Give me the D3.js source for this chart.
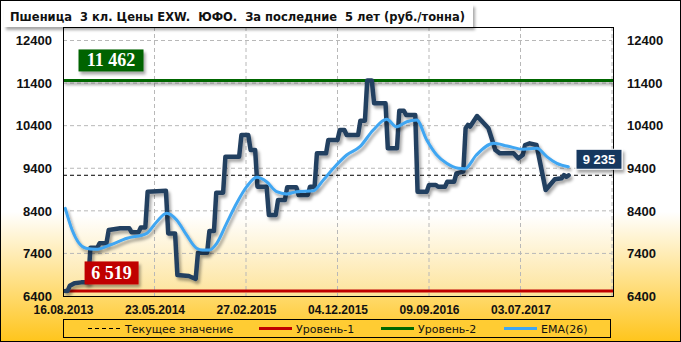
<!DOCTYPE html>
<html>
<head>
<meta charset="utf-8">
<script src="https://cdn.jsdelivr.net/npm/d3@7"></script>
<style>
  body { margin: 0; padding: 0; background: #fff; }
  svg { display: block; }
  .tick-label { font-family: "Liberation Sans", Arial, sans-serif; font-weight: bold; fill: #111; }
</style>
</head>
<body>
<div id="chart-container"></div>
<script>
// data (weeks since 16.08.2013)
const xLabels = ["16.08.2013", "23.05.2014", "27.02.2015", "04.12.2015", "09.09.2016", "03.07.2017"];
const xTicks = [0, 40, 80, 120, 160, 200];
const yTicks = [6400, 7400, 8400, 9400, 10400, 11400, 12400];

const priceWeek = [1, 2, 3, 5, 8, 11, 12, 15, 16, 19, 20, 25, 29, 30, 33, 34, 36, 37, 45, 46, 49, 50, 55, 58, 59, 63, 64, 66, 67, 70,
  71, 77, 78, 81, 82, 84, 85, 89, 90, 93, 94, 97, 98, 102, 103, 107, 108, 110, 111, 115, 116, 120, 121, 123, 124, 129, 130, 132, 133, 135,
  136, 141, 142, 146, 147, 149, 150, 154, 155, 159, 160, 163, 164, 167, 168, 171, 172, 175, 176, 177, 178, 181, 186, 189, 191, 197, 199, 201, 202, 204,
  207, 211, 215, 218, 219, 220, 221];
const priceValue = [6519, 6519, 6640, 6700, 6720, 6720, 7535, 7535, 7640, 7640, 7950, 7990, 7990, 7895, 7895, 8010, 8010, 8850, 8870, 7870, 7870, 6893, 6870, 6800, 7417, 7417, 7926, 7926, 8826, 8826,
  9671, 9671, 10181, 10181, 9829, 9829, 8967, 8967, 8302, 8302, 8654, 8654, 8952, 8952, 8772, 8772, 8967, 8967, 9750, 9750, 10064, 10064, 10298, 10298, 10181, 10181, 10517, 10517, 11462, 11462,
  10924, 10924, 9869, 9869, 10750, 10750, 10650, 10650, 8850, 8850, 9007, 9007, 8967, 8967, 9084, 9084, 9281, 9320, 10338, 10416, 10380, 10627, 10338, 9829, 9750, 9750, 9633, 9711, 9946, 9985,
  9946, 8889, 9140, 9164, 9241, 9200, 9235];

const emaWeek = [1, 4, 10, 14.5, 20.5, 28, 36.6, 41, 45.3, 49.7, 54, 58.4, 61, 64, 67.2, 71.5, 75.9, 80.3, 84.7, 89, 93.4, 97.8, 102.1, 109.4, 113.8,
  118.2, 124, 129.8, 135.6, 141.5, 145.8, 150.3, 154.6, 159, 163.4, 167.7, 172.8, 175.7, 180.7, 188.3, 194.2, 201.2, 207.1, 211.5, 215.9, 220.9];
const emaValue = [8459, 7950, 7520, 7497, 7598, 7755, 7872, 8145, 8342, 8185, 7833, 7520, 7480, 7480, 7637, 8106, 8577, 8967, 9188, 9085, 8850, 8796, 8850, 8873, 9124,
  9399, 9711, 9907, 10298, 10549, 10376, 10493, 10533, 10064, 9711, 9515, 9400, 9390, 9711, 9985, 9923, 9845, 9868, 9672, 9515, 9436];

const level1 = 6519;
const level2 = 11462;
const currentValue = 9235;

const W = 681, H = 342;
const plot = { left: 63, right: 614, top: 27, bottom: 296 };

const svg = d3.select("#chart-container")
    .append("svg")
    .attr("width", W)
    .attr("height", H);

const defs = svg.append("defs");

// background gradients
const bgGrad = defs.append("linearGradient").attr("id", "bg").attr("x1", 0).attr("y1", 0).attr("x2", 0).attr("y2", 1);
bgGrad.append("stop").attr("offset", "0%").attr("stop-color", "#ffffff");
bgGrad.append("stop").attr("offset", "62%").attr("stop-color", "#ffffff");
bgGrad.append("stop").attr("offset", "100%").attr("stop-color", "#ffc51c");

const plotGrad = defs.append("linearGradient").attr("id", "plotbg").attr("x1", 0).attr("y1", 0).attr("x2", 0).attr("y2", 1);
plotGrad.append("stop").attr("offset", "0%").attr("stop-color", "#ffffff");
plotGrad.append("stop").attr("offset", "70%").attr("stop-color", "#ffffff");
plotGrad.append("stop").attr("offset", "100%").attr("stop-color", "#fde39a");

// drop shadow, in user space so flat lines keep it too
const shadow = defs.append("filter").attr("id", "shadow")
    .attr("filterUnits", "userSpaceOnUse")
    .attr("x", 0).attr("y", 0).attr("width", W).attr("height", H);
shadow.append("feDropShadow").attr("dx", 2).attr("dy", 3).attr("stdDeviation", 1.4)
    .attr("flood-color", "#000").attr("flood-opacity", 0.35);

defs.append("clipPath").attr("id", "clip")
    .append("rect")
    .attr("x", plot.left).attr("y", plot.top)
    .attr("width", plot.right - plot.left).attr("height", plot.bottom - plot.top);

// outer background + frame
svg.append("rect").attr("x", 0.5).attr("y", 0.5).attr("width", W - 1).attr("height", H - 1)
    .attr("fill", "url(#bg)").attr("stroke", "#000");

// scales
const x = d3.scaleLinear().domain([0, 240]).range([plot.left, 612]);
const y = d3.scaleLinear().domain([6400, 12400]).range([296, 40.5]);

// plot area
svg.append("rect")
    .attr("x", plot.left).attr("y", plot.top)
    .attr("width", plot.right - plot.left).attr("height", plot.bottom - plot.top)
    .attr("fill", "url(#plotbg)");

// grid
svg.append("g").selectAll("line")
    .data(yTicks.slice(1))
    .enter().append("line")
    .attr("x1", plot.left).attr("x2", 612)
    .attr("y1", d => y(d)).attr("y2", d => y(d))
    .attr("stroke", "#b8b8b8").attr("stroke-dasharray", "4,3");

svg.append("g").selectAll("line")
    .data(xTicks.slice(1).concat([240]))
    .enter().append("line")
    .attr("x1", d => x(d)).attr("x2", d => x(d))
    .attr("y1", plot.top).attr("y2", plot.bottom)
    .attr("stroke", "#b8b8b8").attr("stroke-dasharray", "4,3");

const g = svg.append("g").attr("clip-path", "url(#clip)");

// level lines
g.append("line")
    .attr("x1", plot.left).attr("x2", plot.right)
    .attr("y1", y(level1)).attr("y2", y(level1))
    .attr("stroke", "#c00000").attr("stroke-width", 3);

g.append("line")
    .attr("x1", plot.left).attr("x2", plot.right)
    .attr("y1", y(level2)).attr("y2", y(level2))
    .attr("stroke", "#006600").attr("stroke-width", 3)
    .attr("filter", "url(#shadow)");

// current value
g.append("line")
    .attr("x1", plot.left).attr("x2", 612)
    .attr("y1", y(currentValue)).attr("y2", y(currentValue))
    .attr("stroke", "#000").attr("stroke-dasharray", "4,3");

// price line
const priceLine = d3.line()
    .x((d, i) => x(priceWeek[i]))
    .y(d => y(d));

g.append("path")
    .datum(priceValue)
    .attr("d", priceLine)
    .attr("fill", "none")
    .attr("stroke", "#243f60")
    .attr("stroke-width", 4.5)
    .attr("stroke-linejoin", "round")
    .attr("stroke-linecap", "round")
    .attr("filter", "url(#shadow)");

// EMA(26)
const emaLine = d3.line()
    .x((d, i) => x(emaWeek[i]))
    .y(d => y(d))
    .curve(d3.curveMonotoneX);

g.append("path")
    .datum(emaValue)
    .attr("d", emaLine)
    .attr("fill", "none")
    .attr("stroke", "#3fa6f2")
    .attr("stroke-width", 3)
    .attr("stroke-linecap", "round")
    .attr("filter", "url(#shadow)");

// plot border
svg.append("rect")
    .attr("x", plot.left + 0.5).attr("y", plot.top + 0.5)
    .attr("width", plot.right - plot.left - 1).attr("height", plot.bottom - plot.top)
    .attr("fill", "none").attr("stroke", "#000");

// axes
const leftAxis = svg.append("g")
    .attr("transform", "translate(" + plot.left + ",0)")
    .call(d3.axisLeft(y).tickValues(yTicks).tickSize(0).tickPadding(11).tickFormat(d3.format("d")));
leftAxis.select(".domain").remove();
leftAxis.selectAll("text").attr("class", "tick-label").style("font-size", "13px");

const rightAxis = svg.append("g")
    .attr("transform", "translate(" + plot.right + ",0)")
    .call(d3.axisRight(y).tickValues(yTicks).tickSize(0).tickPadding(13).tickFormat(d3.format("d")));
rightAxis.select(".domain").remove();
rightAxis.selectAll("text").attr("class", "tick-label").style("font-size", "13px");

const bottomAxis = svg.append("g")
    .attr("transform", "translate(0," + plot.bottom + ")")
    .call(d3.axisBottom(x).tickValues(xTicks).tickSize(0).tickPadding(9).tickFormat((d, i) => xLabels[i]));
bottomAxis.select(".domain").remove();
bottomAxis.selectAll("text").attr("class", "tick-label").style("font-size", "12px");

// value boxes
function valueBox(cx, cy, w, h, fill, label, font, size) {
    const b = svg.append("g").attr("filter", "url(#shadow)");
    b.append("rect")
        .attr("x", cx - w / 2).attr("y", cy - h / 2)
        .attr("width", w).attr("height", h)
        .attr("fill", fill);
    svg.append("text")
        .attr("x", cx).attr("y", cy)
        .attr("text-anchor", "middle")
        .attr("dominant-baseline", "central")
        .attr("fill", "#fff")
        .style("font-family", font)
        .style("font-weight", "bold")
        .style("font-size", size + "px")
        .text(label);
    return b;
}

const fmt = d => d3.format(",")(d).replace(",", " ");
valueBox(x(7) + 32, y(level2) - 20, 65, 22, "#006400", fmt(level2), "'Liberation Serif', serif", 18);
valueBox(x(9) + 28, y(level1) - 18, 54, 23, "#c00000", fmt(level1), "'Liberation Serif', serif", 18);

const cb = valueBox(599, y(currentValue) - 16, 46, 20, "#17375e", fmt(currentValue), "'Liberation Sans', sans-serif", 13);
cb.select("rect").attr("stroke", "#ffffff").attr("stroke-width", 1);

// title box
svg.append("rect")
    .attr("x", 4).attr("y", 4).attr("width", 469).attr("height", 23)
    .attr("fill", "#fff").attr("filter", "url(#shadow)");
svg.append("text")
    .attr("x", 10).attr("y", 21)
    .attr("textLength", 455).attr("lengthAdjust", "spacingAndGlyphs")
    .style("white-space", "pre")
    .style("font-family", "'DejaVu Sans', sans-serif")
    .style("font-weight", "bold").style("font-size", "13px")
    .attr("fill", "#111")
    .text("Пшеница  3 кл. Цены EXW.  ЮФО.  За последние  5 лет (руб./тонна)");

// legend
const legend = svg.append("g");
legend.append("rect")
    .attr("x", 63.5).attr("y", 319.5).attr("width", 547).attr("height", 18)
    .attr("fill", "#ffcc33").attr("stroke", "#000");

const legendItems = [
    { label: "Текущее значение", color: "#000", width: 1, dash: "4,3", x: 88 },
    { label: "Уровень-1", color: "#c00000", width: 3, dash: null, x: 259 },
    { label: "Уровень-2", color: "#006600", width: 3, dash: null, x: 381 },
    { label: "EMA(26)", color: "#3fa6f2", width: 3, dash: null, x: 504 }
];

legendItems.forEach(function (d) {
    legend.append("line")
        .attr("x1", d.x).attr("x2", d.x + 33)
        .attr("y1", 328.5).attr("y2", 328.5)
        .attr("stroke", d.color).attr("stroke-width", d.width)
        .attr("stroke-dasharray", d.dash);
    legend.append("text")
        .attr("x", d.x + 37).attr("y", 329)
        .attr("dominant-baseline", "central")
        .style("font-family", "'DejaVu Sans', sans-serif")
        .style("font-size", "11px")
        .attr("fill", "#111")
        .text(d.label);
});
</script>
</body>
</html>
